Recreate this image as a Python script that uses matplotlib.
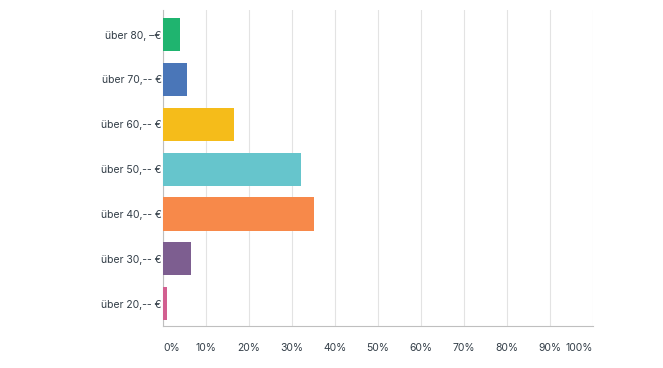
import matplotlib
matplotlib.use("Agg")
import matplotlib.pyplot as plt

# Data ---------------------------------------------------------------
categories = ["über 20,-- €", "über 30,-- €", "über 40,-- €", "über 50,-- €",
              "über 60,-- €", "über 70,-- €", "über 80, –€"]
values = [0.9, 6.5, 35.1, 32.1, 16.5, 5.6, 4.0]
colors = ["#D25F90", "#7D5E90", "#F7894A", "#66C5CC", "#F5BC1A", "#4A76B8", "#1FB46F"]
ticks = list(range(0, 101, 10))
tick_labels = ["{}%".format(t) for t in ticks]

plt.rcParams['font.family'] = ['Inter', 'DejaVu Sans']
text_color = "#333E48"

fig = plt.figure(figsize=(6.63, 3.68), dpi=100)
ax = fig.add_axes([0.2459, 0.1141, 0.6485, 0.8587])

ax.barh(range(len(categories)), values, height=0.74, color=colors, zorder=3)

ax.set_xlim(0, 100)
ax.set_ylim(-0.5, 6.55)
ax.set_xticks(ticks)
ax.set_xticklabels(tick_labels, fontsize=7.5, color=text_color)
labs = ax.get_xticklabels()
labs[0].set_ha("left")
labs[-1].set_ha("right")
ax.set_yticks(range(len(categories)))
ax.set_yticklabels(categories, fontsize=7.5, color=text_color)

ax.tick_params(axis="x", length=0, pad=12)
ax.tick_params(axis="y", length=0, pad=1)

ax.grid(axis="x", color="#E3E3E3", linewidth=0.8, zorder=0)
for s in ["top", "right"]:
    ax.spines[s].set_visible(False)
ax.spines["left"].set_color("#BFBFBF")
ax.spines["bottom"].set_color("#BFBFBF")
ax.spines["left"].set_linewidth(0.8)
ax.spines["bottom"].set_linewidth(0.8)

fig.savefig("out.png", dpi=100)
